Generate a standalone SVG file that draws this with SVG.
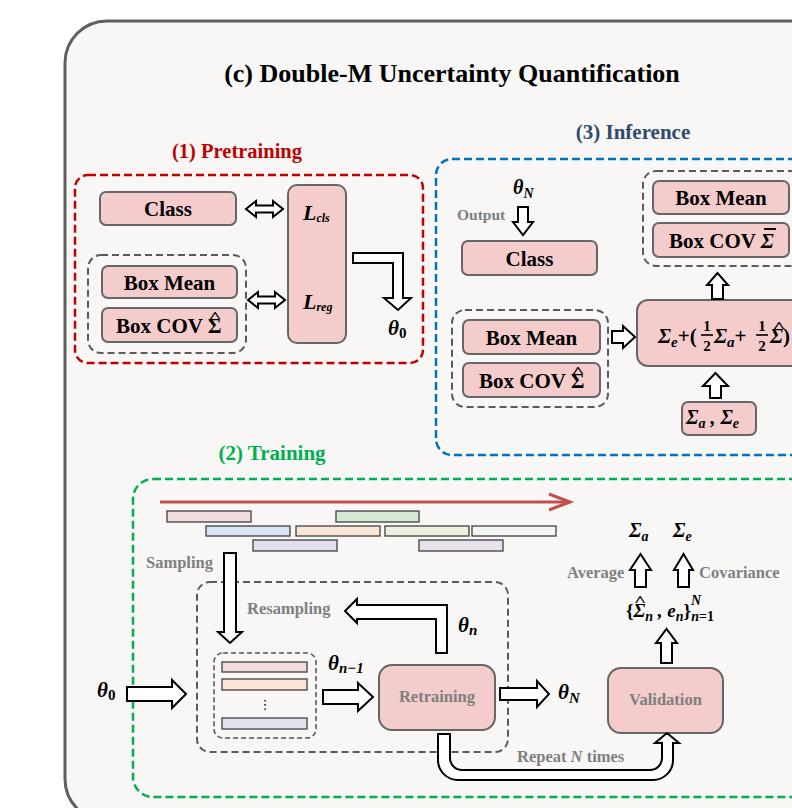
<svg xmlns="http://www.w3.org/2000/svg" width="792" height="808" viewBox="0 0 792 808">
<style>
.t{font-family:"Liberation Serif","Times New Roman",serif;font-weight:bold;fill:#000}
.m{font-family:"Liberation Serif","Times New Roman",serif;font-weight:bold;font-style:italic;fill:#000}
.g{font-family:"Liberation Serif","Times New Roman",serif;font-weight:bold;fill:#7f7f7f;font-size:16.5px}
.hat{font-family:"Liberation Serif","Times New Roman",serif;font-weight:bold;fill:#000;font-size:14px;text-anchor:middle}
.box{fill:#f4cccc;stroke:#666;stroke-width:2}
.gd{fill:none;stroke:#5a5a5a;stroke-width:2;stroke-dasharray:7 4}
.arr{fill:#fff;stroke:#000;stroke-width:2;stroke-linejoin:miter}
.bar{stroke:#404040;stroke-width:1.3}
</style>
<rect x="0" y="0" width="792" height="808" fill="#ffffff"/>
<rect x="65" y="21" width="770" height="800" rx="42" fill="#f8f7f5" stroke="#5f5f5f" stroke-width="3"/>
<text class="t" x="452" y="82" font-size="26" text-anchor="middle">(c) Double-M Uncertainty Quantification</text>

<!-- Pretraining -->
<g id="pretraining">
<text class="t" x="237" y="158" font-size="20.5" text-anchor="middle" style="fill:#c00000">(1) Pretraining</text>
<rect x="75" y="175" width="348" height="188" rx="13" fill="none" stroke="#c00000" stroke-width="2.5" stroke-dasharray="8 4"/>
</g>
<g id="pre-class"><rect class="box" x="100" y="192" width="136" height="33" rx="6"/><text class="t" x="168" y="216" font-size="21" text-anchor="middle">Class</text></g>
<g id="pre-boxgroup"><rect class="gd" x="88" y="255" width="158" height="98" rx="13"/></g>
<g id="pre-boxmean"><rect class="box" x="102" y="266" width="135" height="32" rx="6"/><text class="t" x="169.5" y="290" font-size="21" text-anchor="middle">Box Mean</text></g>
<g id="pre-boxcov"><rect class="box" x="102" y="308" width="135" height="34" rx="6"/><text class="t" x="116" y="333" font-size="21">Box COV Σ</text><text class="hat" transform="translate(215,322) scale(1.6,1)">^</text></g>
<g id="pre-loss"><rect class="box" x="288" y="185" width="58" height="158" rx="9"/>
<text class="m" x="303" y="220" font-size="22">L<tspan font-size="12" dy="2">cls</tspan></text>
<text class="m" x="303" y="309" font-size="22">L<tspan font-size="12" dy="2">reg</tspan></text></g>
<g id="pre-theta0"><text class="m" x="388" y="335" font-size="21">θ<tspan font-style="normal" font-size="15" dy="3">0</tspan></text></g>

<!-- Inference -->
<g id="inference">
<text class="t" x="633" y="139" font-size="21" text-anchor="middle" style="fill:#2e4a6e">(3) Inference</text>
<rect x="436" y="159" width="420" height="296" rx="16" fill="none" stroke="#0070c0" stroke-width="2.5" stroke-dasharray="8 4"/>
</g>
<g id="inf-thetaN"><text class="m" x="513" y="194" font-size="20">θ<tspan font-size="14" dy="4">N</tspan></text>
<text class="g" x="457" y="220" style="font-size:15.5px">Output</text></g>
<g id="inf-class"><rect class="box" x="462" y="241" width="135" height="34" rx="6"/><text class="t" x="529.5" y="266" font-size="21" text-anchor="middle">Class</text></g>
<g id="inf-outgroup"><rect class="gd" x="643" y="171" width="160" height="95" rx="13"/></g>
<g id="inf-outmean"><rect class="box" x="653" y="181" width="136" height="33" rx="6"/><text class="t" x="721" y="205" font-size="21" text-anchor="middle">Box Mean</text></g>
<g id="inf-outcov"><rect class="box" x="653" y="223" width="136" height="34" rx="6"/><text class="t" x="669" y="248" font-size="21">Box COV <tspan font-style="italic">Σ</tspan></text><line x1="764" y1="229" x2="776" y2="229" stroke="#000" stroke-width="2"/></g>
<g id="inf-formula"><rect class="box" x="637" y="300" width="200" height="66" rx="11"/>
<text class="m" x="658" y="343" font-size="21">Σ<tspan font-size="15" dy="4">e</tspan><tspan font-style="normal" dy="-4">+(</tspan></text>
<text class="t" x="707" y="331" font-size="15" text-anchor="middle">1</text>
<line x1="701" y1="335" x2="713" y2="335" stroke="#000" stroke-width="1.6"/>
<text class="t" x="707" y="351" font-size="15" text-anchor="middle">2</text>
<text class="m" x="714" y="343" font-size="21">Σ<tspan font-size="15" dy="4">a</tspan><tspan font-style="normal" dy="-4">+</tspan></text>
<text class="t" x="762" y="331" font-size="15" text-anchor="middle">1</text>
<line x1="756" y1="335" x2="768" y2="335" stroke="#000" stroke-width="1.6"/>
<text class="t" x="762" y="351" font-size="15" text-anchor="middle">2</text>
<text class="m" x="770" y="343" font-size="21">Σ<tspan font-style="normal">)</tspan></text>
<text class="hat" transform="translate(779,332) scale(1.6,1)">^</text></g>
<g id="inf-ingroup"><rect class="gd" x="452" y="310" width="156" height="97" rx="13"/></g>
<g id="inf-inmean"><rect class="box" x="463" y="320" width="137" height="34" rx="6"/><text class="t" x="531.5" y="345" font-size="21" text-anchor="middle">Box Mean</text></g>
<g id="inf-incov"><rect class="box" x="463" y="363" width="137" height="34" rx="6"/><text class="t" x="479" y="388" font-size="21">Box COV Σ</text><text class="hat" transform="translate(578,377) scale(1.6,1)">^</text></g>
<g id="inf-sigmas"><rect class="box" x="682" y="402" width="74" height="33" rx="6"/>
<text class="m" x="686" y="424" font-size="20">Σ<tspan font-size="14" dy="4">a</tspan><tspan dy="-4"> , Σ</tspan><tspan font-size="14" dy="4">e</tspan></text></g>

<!-- Training -->
<g id="training">
<text class="t" x="272" y="460" font-size="21" text-anchor="middle" style="fill:#00b050">(2) Training</text>
<rect x="133" y="479" width="690" height="318" rx="20" fill="none" stroke="#00b050" stroke-width="2.5" stroke-dasharray="8 4"/>
</g>
<g id="timeline">
<line x1="160" y1="502" x2="570" y2="502" stroke="#c0504d" stroke-width="3"/>
<polyline points="549,494 570,502 549,510" fill="none" stroke="#c0504d" stroke-width="3"/>
<rect class="bar" x="167" y="511" width="84" height="11" fill="#f2dcdb"/>
<rect class="bar" x="336" y="511" width="83" height="11" fill="#d5e8d4"/>
<rect class="bar" x="206" y="526" width="84" height="10" fill="#dae3f3"/>
<rect class="bar" x="296" y="526" width="84" height="10" fill="#fbe5d6"/>
<rect class="bar" x="385" y="526" width="84" height="10" fill="#ebf1de"/>
<rect class="bar" x="472" y="526" width="84" height="10" fill="#f2f5f5"/>
<rect class="bar" x="253" y="540" width="84" height="11" fill="#e4dfec"/>
<rect class="bar" x="419" y="540" width="84" height="11" fill="#e8e0ec"/>
</g>
<text class="g" x="146" y="568">Sampling</text>
<g id="resample-group"><rect class="gd" x="197" y="582" width="311" height="170" rx="13"/>
<text class="g" x="247" y="614">Resampling</text></g>
<g id="subset"><rect fill="none" stroke="#5a5a5a" stroke-width="1.6" stroke-dasharray="5 3" x="214" y="653" width="102" height="85" rx="9"/>
<rect class="bar" x="222" y="662" width="85" height="10" fill="#f2dcdb"/>
<rect class="bar" x="222" y="679" width="85" height="11" fill="#fbe5d6"/>
<text x="265" y="709" font-family="DejaVu Sans,sans-serif" font-size="13" text-anchor="middle" fill="#000">⋮</text>
<rect class="bar" x="222" y="718" width="85" height="11" fill="#e4dfec"/></g>
<g id="theta0"><text class="m" x="97" y="697" font-size="21">θ<tspan font-style="normal" font-size="15" dy="3">0</tspan></text></g>
<g id="thetan1"><text class="m" x="328" y="670" font-size="21">θ<tspan font-size="15" dy="3">n−1</tspan></text></g>
<g id="thetan"><text class="m" x="458" y="632" font-size="21">θ<tspan font-size="15" dy="3">n</tspan></text></g>
<g id="retraining"><rect class="box" x="379" y="665" width="116" height="65" rx="13"/><text class="g" x="437" y="702" text-anchor="middle">Retraining</text></g>
<g id="thetaN"><text class="m" x="558" y="699" font-size="21">θ<tspan font-size="15" dy="4">N</tspan></text></g>
<g id="validation"><rect class="box" x="608" y="668" width="115" height="65" rx="13"/><text class="g" x="665.5" y="705" text-anchor="middle">Validation</text></g>
<g id="set"><text class="m" x="626" y="617" font-size="19"><tspan font-style="normal">{</tspan>Σ<tspan font-size="14" dy="4">n</tspan><tspan dy="-4"> , e</tspan><tspan font-size="14" dy="4">n</tspan><tspan font-style="normal" dy="-4">}</tspan><tspan font-size="14" dy="-12">N</tspan><tspan font-size="14" dx="-10" dy="16">n</tspan><tspan font-style="normal" font-size="14">=1</tspan></text>
<text class="hat" transform="translate(640,606) scale(1.5,1)">^</text></g>
<g id="sigma-a"><text class="m" x="629" y="537" font-size="20">Σ<tspan font-size="14" dy="4">a</tspan></text></g>
<g id="sigma-e"><text class="m" x="673" y="537" font-size="20">Σ<tspan font-size="14" dy="4">e</tspan></text></g>
<text class="g" x="567" y="578">Average</text>
<text class="g" x="699" y="578">Covariance</text>
<text class="g" x="517" y="762">Repeat <tspan font-style="italic">N</tspan> times</text>

<g id="connectors">
<polygon class="arr" points="246,209 256,201 256,205.5 273,205.5 273,201 283,209 273,217 273,212.5 256,212.5 256,217"/>
<polygon class="arr" points="248,300 258,292 258,296.5 275,296.5 275,292 285,300 275,308 275,303.5 258,303.5 258,308"/>
<polygon class="arr" points="353,253 403,253 403,298 411,298 398,310 384,298 393,298 393,263 353,263"/>
<polygon class="arr" points="518,207 528,207 528,222 533,222 523,235 513,222 518,222"/>
<polygon class="arr" points="712,299 712,285 707,285 717.5,273 728,285 723,285 723,299"/>
<polygon class="arr" points="612,331 623,331 623,326 635,337 623,348 623,343 612,343"/>
<polygon class="arr" points="710,398 710,386 703,386 715.5,373 728,386 721,386 721,398"/>
<polygon class="arr" points="224,553 236,553 236,632 242,632 230,643 218,632 224,632"/>
<polygon class="arr" points="436,653 436,619 357,619 357,623 345,611 357,599 357,605 447,605 447,653"/>
<polygon class="arr" points="127,687 172,687 172,680 186,694 172,708 172,701 127,701"/>
<polygon class="arr" points="323,690 358,690 358,683 373,697 358,711 358,704 323,704"/>
<polygon class="arr" points="500,688 537,688 537,681 549,694 537,707 537,700 500,700"/>
<polygon class="arr" points="661,663 661,643 656,643 666.5,629 677,643 672,643 672,663"/>
<polygon class="arr" points="635,587 635,570 630,570 640.5,554 651,570 646,570 646,587"/>
<polygon class="arr" points="678,587 678,570 674,570 683.5,554 693,570 689,570 689,587"/>
<path class="arr" d="M438,734 L438,760 A20,20 0 0 0 458,780 L653,780 A20,20 0 0 0 673,760 L673,743 L679,743 L667,733 L655,743 L662,743 L662,758 A12,12 0 0 1 650,770 L462,770 A12,12 0 0 1 450,758 L450,734 Z"/>
</g>
</svg>
